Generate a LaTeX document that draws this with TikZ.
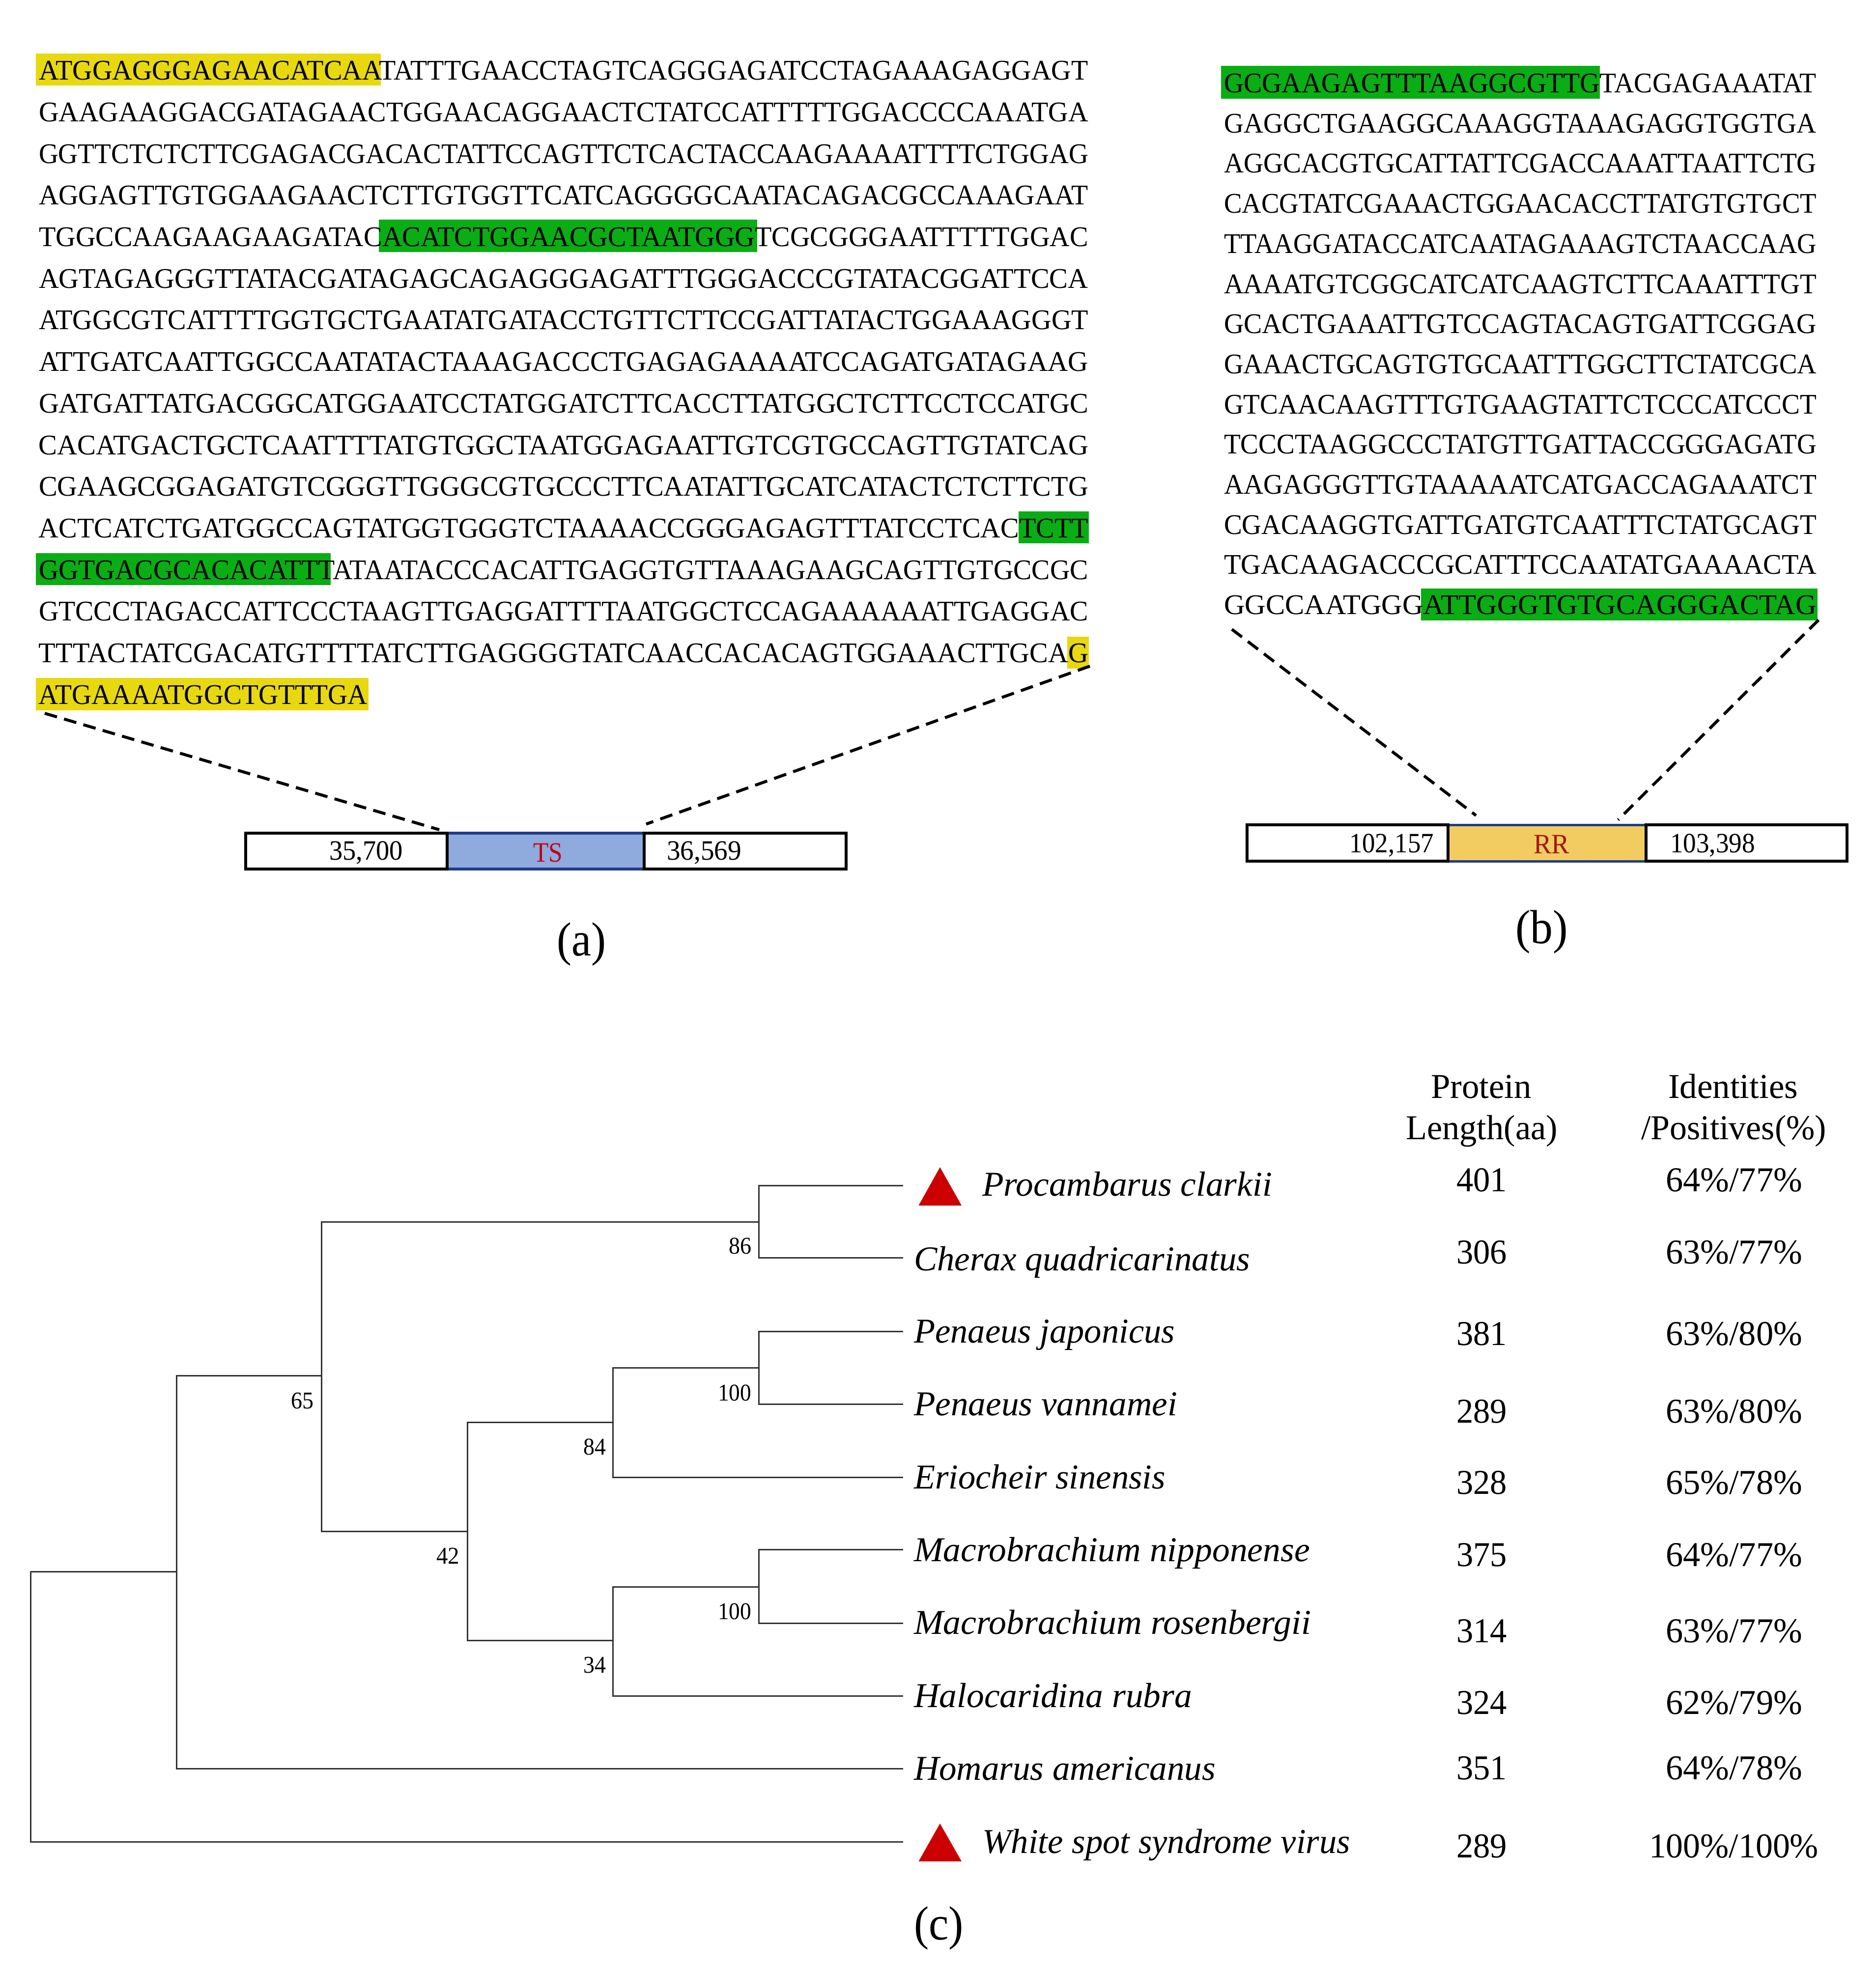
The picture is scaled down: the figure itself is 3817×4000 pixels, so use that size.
\documentclass[tikz,border=0pt]{standalone}
\usepackage{fontspec}
\usepackage{graphicx}
\setmainfont{Liberation Serif}
\newcommand{\fitw}[2]{\resizebox{\dimexpr#1pt*2/10\relax}{\height}{#2}}
\definecolor{hlyellow}{HTML}{E8D80F}
\definecolor{hlgreen}{HTML}{0AAD14}
\definecolor{tsblue}{HTML}{8FAADC}
\definecolor{rrgold}{HTML}{F2CC60}
\definecolor{edgeblue}{HTML}{1F3C88}
\definecolor{tsred}{HTML}{C00018}
\definecolor{rrred}{HTML}{A01818}
\definecolor{trired}{HTML}{CC0000}
\definecolor{branchgray}{HTML}{333333}
\tikzset{
  lbl/.style={anchor=base west,inner sep=0pt,outer sep=0pt},
  seqa/.style={lbl,font=\fontsize{11.6}{13}\selectfont},
  small/.style={lbl,font=\fontsize{11.4}{13}\selectfont},
  boot/.style={lbl,font=\fontsize{9.8}{11}\selectfont},
  species/.style={lbl,font=\fontsize{14.2}{16}\selectfont\itshape},
  cell/.style={lbl,font=\fontsize{14.2}{16}\selectfont},
  panel/.style={lbl,font=\fontsize{19.5}{22}\selectfont},
  zoomline/.style={draw=black,line width=1.2pt,dash pattern=on 5.2pt off 3pt},
  branch/.style={draw=branchgray,line width=0.6pt,line cap=square},
  tri/.style={fill=trired,draw=none},
  thick/.style={draw=black,line width=1.2pt}
}
\begin{document}
\begin{tikzpicture}[x=0.2pt,y=-0.2pt]
\useasboundingbox (0,0) rectangle (3817,4000);
\fill[white] (0,0) rectangle (3817,4000);

% highlights panel (a)
\fill[hlyellow] (73,108.5) rectangle (775,174);
\fill[hlgreen] (771,447) rectangle (1541,513);
\fill[hlgreen] (2073,1041) rectangle (2216,1106);
\fill[hlgreen] (73,1126) rectangle (673,1191);
\fill[hlyellow] (2171.5,1296) rectangle (2216,1361);
\fill[hlyellow] (73,1380) rectangle (750,1446);

% sequence (a)
\node[seqa] (a01) at (79,162.6) {\fitw{2136}{ATGGAGGGAGAACATCAATATTTGAACCTAGTCAGGGAGATCCTAGAAAGAGGAGT}};
\node[seqa] (a02) at (79,247.4) {\fitw{2136}{GAAGAAGGACGATAGAACTGGAACAGGAACTCTATCCATTTTTGGACCCCAAATGA}};
\node[seqa] (a03) at (79,332.1) {\fitw{2136}{GGTTCTCTCTTCGAGACGACACTATTCCAGTTCTCACTACCAAGAAAATTTTCTGGAG}};
\node[seqa] (a04) at (79,416.8) {\fitw{2136}{AGGAGTTGTGGAAGAACTCTTGTGGTTCATCAGGGGCAATACAGACGCCAAAGAAT}};
\node[seqa] (a05) at (79,501.5) {\fitw{2136}{TGGCCAAGAAGAAGATACACATCTGGAACGCTAATGGGTCGCGGGAATTTTTGGAC}};
\node[seqa] (a06) at (79,586.2) {\fitw{2136}{AGTAGAGGGTTATACGATAGAGCAGAGGGAGATTTGGGACCCGTATACGGATTCCA}};
\node[seqa] (a07) at (79,670.9) {\fitw{2136}{ATGGCGTCATTTTGGTGCTGAATATGATACCTGTTCTTCCGATTATACTGGAAAGGGT}};
\node[seqa] (a08) at (79,755.6) {\fitw{2136}{ATTGATCAATTGGCCAATATACTAAAGACCCTGAGAGAAAATCCAGATGATAGAAG}};
\node[seqa] (a09) at (79,840.3) {\fitw{2136}{GATGATTATGACGGCATGGAATCCTATGGATCTTCACCTTATGGCTCTTCCTCCATGC}};
\node[seqa] (a10) at (79,925.0) {\fitw{2136}{CACATGACTGCTCAATTTTATGTGGCTAATGGAGAATTGTCGTGCCAGTTGTATCAG}};
\node[seqa] (a11) at (79,1009.7) {\fitw{2136}{CGAAGCGGAGATGTCGGGTTGGGCGTGCCCTTCAATATTGCATCATACTCTCTTCTG}};
\node[seqa] (a12) at (79,1094.4) {\fitw{2136}{ACTCATCTGATGGCCAGTATGGTGGGTCTAAAACCGGGAGAGTTTATCCTCACTCTT}};
\node[seqa] (a13) at (79,1179.1) {\fitw{2136}{GGTGACGCACACATTTATAATACCCACATTGAGGTGTTAAAGAAGCAGTTGTGCCGC}};
\node[seqa] (a14) at (79,1263.8) {\fitw{2136}{GTCCCTAGACCATTCCCTAAGTTGAGGATTTTAATGGCTCCAGAAAAAATTGAGGAC}};
\node[seqa] (a15) at (79,1348.5) {\fitw{2136}{TTTACTATCGACATGTTTTATCTTGAGGGGTATCAACCACACAGTGGAAACTTGCAG}};
\node[seqa] (a16) at (79,1433.2) {\fitw{669}{ATGAAAATGGCTGTTTGA}};

% map (a)
\fill[tsblue] (910,1696) rectangle (1311,1769);
\draw[draw=edgeblue,line width=1.3pt] (910,1696) -- (1311,1696) (910,1769) -- (1311,1769);
\draw[thick] (910,1696) -- (500,1696) -- (500,1769) -- (910,1769) -- cycle;
\draw[thick] (1311,1696) -- (1722,1696) -- (1722,1769) -- (1311,1769) -- cycle;
\node[small] (tsl) at (670,1750) {\fitw{150}{35,700}};
\node[small] (tsr) at (1357,1750) {\fitw{152}{36,569}};
\node[small,text=tsred] (tsn) at (1085,1754) {\fitw{60}{TS}};
\coordinate (za1) at (91,1452);
\coordinate (za2) at (894,1689);
\coordinate (za3) at (2218,1356);
\coordinate (za4) at (1315,1677.5);
\draw[zoomline] (za1) -- (za2);
\draw[zoomline] (za3) -- (za4);
\node[panel] (capa) at (1133,1945) {\fitw{100}{(a)}};

% highlights panel (b)
\fill[hlgreen] (2485,134.4) rectangle (3256,200.5);
\fill[hlgreen] (2892,1198) rectangle (3698.5,1263);

% sequence (b)
\node[seqa] (b01) at (2491,188.5) {\fitw{1206}{GCGAAGAGTTTAAGGCGTTGTACGAGAAATAT}};
\node[seqa] (b02) at (2491,270.2) {\fitw{1206}{GAGGCTGAAGGCAAAGGTAAAGAGGTGGTGA}};
\node[seqa] (b03) at (2491,351.9) {\fitw{1206}{AGGCACGTGCATTATTCGACCAAATTAATTCTG}};
\node[seqa] (b04) at (2491,433.6) {\fitw{1206}{CACGTATCGAAACTGGAACACCTTATGTGTGCT}};
\node[seqa] (b05) at (2491,515.3) {\fitw{1206}{TTAAGGATACCATCAATAGAAAGTCTAACCAAG}};
\node[seqa] (b06) at (2491,597.0) {\fitw{1206}{AAAATGTCGGCATCATCAAGTCTTCAAATTTGT}};
\node[seqa] (b07) at (2491,678.7) {\fitw{1206}{GCACTGAAATTGTCCAGTACAGTGATTCGGAG}};
\node[seqa] (b08) at (2491,760.4) {\fitw{1206}{GAAACTGCAGTGTGCAATTTGGCTTCTATCGCA}};
\node[seqa] (b09) at (2491,842.1) {\fitw{1206}{GTCAACAAGTTTGTGAAGTATTCTCCCATCCCT}};
\node[seqa] (b10) at (2491,923.8) {\fitw{1206}{TCCCTAAGGCCCTATGTTGATTACCGGGAGATG}};
\node[seqa] (b11) at (2491,1005.5) {\fitw{1206}{AAGAGGGTTGTAAAAATCATGACCAGAAATCT}};
\node[seqa] (b12) at (2491,1087.2) {\fitw{1206}{CGACAAGGTGATTGATGTCAATTTCTATGCAGT}};
\node[seqa] (b13) at (2491,1168.9) {\fitw{1206}{TGACAAGACCCGCATTTCCAATATGAAAACTA}};
\node[seqa] (b14) at (2491,1250.6) {\fitw{1206}{GGCCAATGGGATTGGGTGTGCAGGGACTAG}};

% map (b)
\fill[rrgold] (2947,1679) rectangle (3350,1753);
\draw[draw=edgeblue,line width=1pt] (2947,1679) -- (3350,1679) (2947,1753) -- (3350,1753);
\draw[thick] (2947,1679) -- (2538,1679) -- (2538,1753) -- (2947,1753) -- cycle;
\draw[thick] (3350,1679) -- (3759,1679) -- (3759,1753) -- (3350,1753) -- cycle;
\node[small] (rrl) at (2746,1735) {\fitw{172}{102,157}};
\node[small] (rrr) at (3399,1735) {\fitw{173}{103,398}};
\node[small,text=rrred] (rrn) at (3121,1737) {\fitw{73}{RR}};
\coordinate (zb1) at (2507,1281);
\coordinate (zb2) at (3004,1660);
\coordinate (zb3) at (3701,1262);
\coordinate (zb4) at (3293,1669);
\draw[zoomline] (zb1) -- (zb2);
\draw[zoomline] (zb3) -- (zb4);
\node[panel] (capb) at (3084,1920) {\fitw{107}{(b)}};

% tree
\coordinate (tP) at (1838,2413);
\coordinate (tC) at (1838,2560.6);
\coordinate (tJ) at (1838,2710);
\coordinate (tV) at (1838,2858);
\coordinate (tE) at (1838,3007);
\coordinate (tN) at (1838,3154.5);
\coordinate (tR) at (1838,3304);
\coordinate (tH) at (1838,3452.5);
\coordinate (tA) at (1838,3600.6);
\coordinate (tW) at (1838,3749);
\coordinate (nRoot) at (62,3199);
\coordinate (nB) at (359,3199);
\coordinate (nC) at (654,2800.6);
\coordinate (nD) at (1544,2487);
\coordinate (nE) at (951,3117);
\coordinate (nF) at (1247,2895);
\coordinate (nG) at (1247,3339);
\coordinate (nH) at (1544,2784.5);
\coordinate (nI) at (1544,3230);
\draw[branch] (nRoot) -- (nB);
\draw[branch] (nRoot) |- (tW);
\draw[branch] (nB) |- (nC);
\draw[branch] (nB) |- (tA);
\draw[branch] (nC) |- (nD);
\draw[branch] (nC) |- (nE);
\draw[branch] (nD) |- (tP);
\draw[branch] (nD) |- (tC);
\draw[branch] (nE) |- (nF);
\draw[branch] (nE) |- (nG);
\draw[branch] (nF) |- (nH);
\draw[branch] (nF) |- (tE);
\draw[branch] (nH) |- (tJ);
\draw[branch] (nH) |- (tV);
\draw[branch] (nG) |- (nI);
\draw[branch] (nG) |- (tH);
\draw[branch] (nI) |- (tN);
\draw[branch] (nI) |- (tR);

% bootstrap values
\node[boot] (b86) at (1483,2552.6) {\fitw{46}{86}};
\node[boot] (b100a) at (1461,2851) {\fitw{68}{100}};
\node[boot] (b65) at (592,2867) {\fitw{46}{65}};
\node[boot] (b84) at (1187,2961) {\fitw{46}{84}};
\node[boot] (b42) at (888,3183) {\fitw{47}{42}};
\node[boot] (b100b) at (1461,3296) {\fitw{68}{100}};
\node[boot] (b34) at (1187,3405) {\fitw{46}{34}};

% markers
\fill[tri] (1913,2376) -- (1957,2454) -- (1869.5,2454) -- cycle;
\fill[tri] (1913,3712) -- (1957,3789) -- (1869.5,3789) -- cycle;

% species
\node[species] (sP) at (1999,2434) {\fitw{590}{Procambarus clarkii}};
\node[species] (sC) at (1860,2586) {\fitw{684}{Cherax quadricarinatus}};
\node[species] (sJ) at (1860,2733) {\fitw{531}{Penaeus japonicus}};
\node[species] (sV) at (1860,2881) {\fitw{536}{Penaeus vannamei}};
\node[species] (sE) at (1860,3030) {\fitw{512}{Eriocheir sinensis}};
\node[species] (sN) at (1860,3178.6) {\fitw{806}{Macrobrachium nipponense}};
\node[species] (sR) at (1860,3326.5) {\fitw{808}{Macrobrachium rosenbergii}};
\node[species] (sH) at (1860,3475) {\fitw{566}{Halocaridina rubra}};
\node[species] (sA) at (1860,3623) {\fitw{614}{Homarus americanus}};
\node[species] (sW) at (1999,3772) {\fitw{749}{White spot syndrome virus}};

% table header
\node[cell] (h1a) at (2912,2235) {\fitw{205}{Protein}};
\node[cell] (h1b) at (2861,2319) {\fitw{309}{Length(aa)}};
\node[cell] (h2a) at (3395,2235) {\fitw{264}{Identities}};
\node[cell] (h2b) at (3340,2319) {\fitw{377}{/Positives(\%)}};

% table columns
\node[cell] (l1) at (2964,2425.6) {\fitw{103}{401}};
\node[cell] (l2) at (2964,2572) {\fitw{103}{306}};
\node[cell] (l3) at (2964,2738.5) {\fitw{103}{381}};
\node[cell] (l4) at (2964,2896) {\fitw{103}{289}};
\node[cell] (l5) at (2964,3041.5) {\fitw{103}{328}};
\node[cell] (l6) at (2964,3188) {\fitw{103}{375}};
\node[cell] (l7) at (2964,3343) {\fitw{103}{314}};
\node[cell] (l8) at (2964,3489) {\fitw{103}{324}};
\node[cell] (l9) at (2964,3622) {\fitw{103}{351}};
\node[cell] (l10) at (2964,3781) {\fitw{103}{289}};
\node[cell] (p1) at (3390,2425.6) {\fitw{278}{64\%/77\%}};
\node[cell] (p2) at (3390,2572) {\fitw{278}{63\%/77\%}};
\node[cell] (p3) at (3390,2738.5) {\fitw{278}{63\%/80\%}};
\node[cell] (p4) at (3390,2896) {\fitw{278}{63\%/80\%}};
\node[cell] (p5) at (3390,3041.5) {\fitw{278}{65\%/78\%}};
\node[cell] (p6) at (3390,3188) {\fitw{278}{64\%/77\%}};
\node[cell] (p7) at (3390,3343) {\fitw{278}{63\%/77\%}};
\node[cell] (p8) at (3390,3489) {\fitw{278}{62\%/79\%}};
\node[cell] (p9) at (3390,3622) {\fitw{278}{64\%/78\%}};
\node[cell] (p10) at (3356,3781) {\fitw{345}{100\%/100\%}};

\node[panel] (capc) at (1860,3948) {\fitw{101}{(c)}};
\end{tikzpicture}
\end{document}
